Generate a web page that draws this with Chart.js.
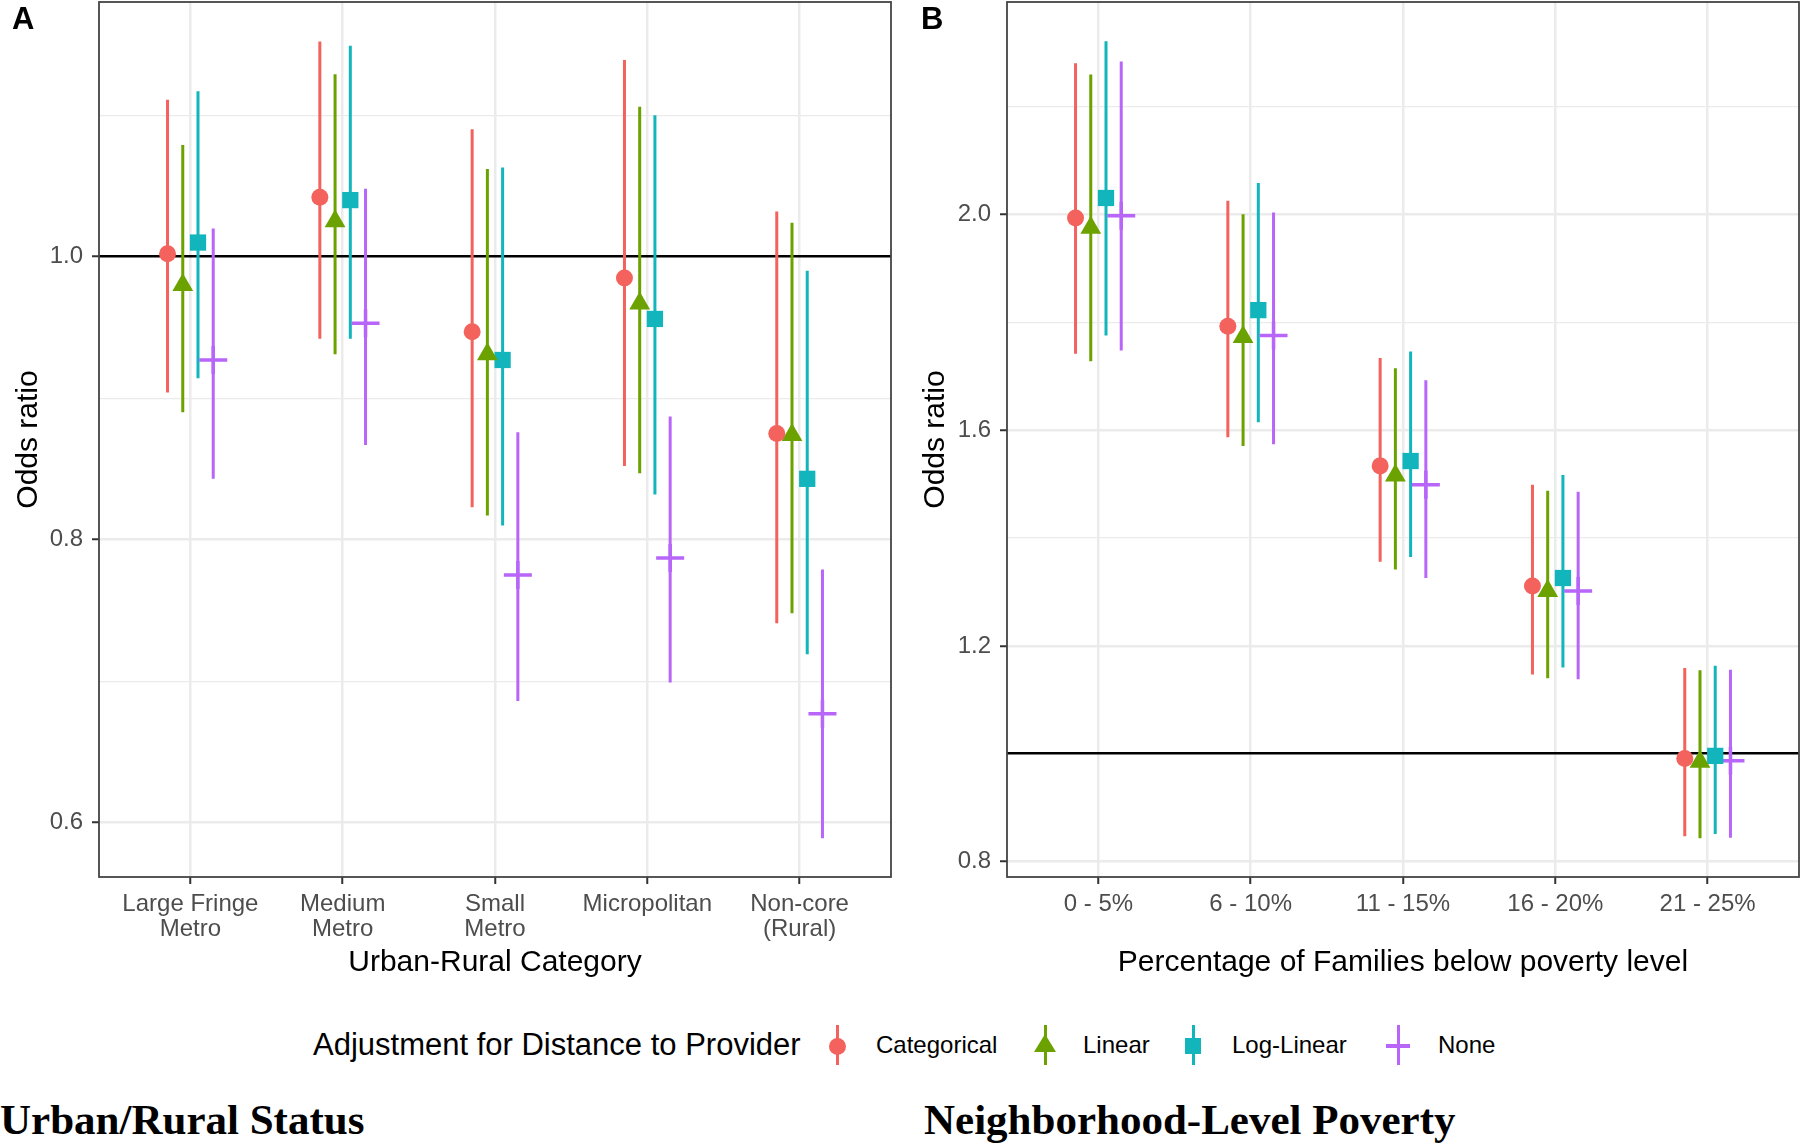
<!DOCTYPE html>
<html>
<head>
<meta charset="utf-8">
<script src="https://cdn.jsdelivr.net/npm/chart.js@4.4.1/dist/chart.umd.min.js"></script>
<style>
  body { margin: 0; background: #fff; }
  #page { position: relative; width: 1800px; height: 1145px; overflow: hidden; background: #fff;
          font-family: "Liberation Sans", Arial, sans-serif; color: #000; }
  canvas { position: absolute; top: 0; }
  .tag { position: absolute; top: 4px; font-weight: bold; font-size: 31px; line-height: 30px; }
  .leg { position: absolute; top: 1025px; height: 40px; line-height: 40px; white-space: nowrap; }
  .vline { position: absolute; top: 1025px; width: 3px; height: 40px; }
  .mk { position: absolute; }
  .caption { position: absolute; top: 1098px; font-family: "Liberation Serif", "Times New Roman", serif;
             font-weight: bold; font-size: 43px; line-height: 43px; white-space: nowrap; }
</style>
</head>
<body>
<div id="page">
  <canvas id="chartA" width="900" height="1000" style="left:0"></canvas>
  <canvas id="chartB" width="900" height="1000" style="left:900px"></canvas>
  <div class="tag" style="left:12px">A</div>
  <div class="tag" style="left:921px">B</div>
  <div id="legend"></div>
  <div class="caption" style="left:0">Urban/Rural Status</div>
  <div class="caption" style="left:924px">Neighborhood-Level Poverty</div>
</div>
<script>
// categories
const catsA = [["Large Fringe", "Metro"], ["Medium", "Metro"], ["Small", "Metro"], "Micropolitan", ["Non-core", "(Rural)"]];
const catsB = ["0 - 5%", "6 - 10%", "11 - 15%", "16 - 20%", "21 - 25%"];
const series = ["Categorical", "Linear", "Log-Linear", "None"];

// odds ratios, one row per series (Categorical, Linear, Log-Linear, None)
const estA = [
  [1.002, 1.042, 0.947, 0.985, 0.875],
  [0.980, 1.025, 0.931, 0.967, 0.874],
  [1.010, 1.040, 0.927, 0.956, 0.843],
  [0.927, 0.953, 0.775, 0.787, 0.677]
];
const lowA = [
  [0.904, 0.942, 0.823, 0.852, 0.741],
  [0.890, 0.931, 0.817, 0.847, 0.748],
  [0.914, 0.942, 0.810, 0.832, 0.719],
  [0.843, 0.867, 0.686, 0.699, 0.589]
];
const highA = [
  [1.111, 1.152, 1.090, 1.139, 1.032],
  [1.079, 1.129, 1.062, 1.106, 1.024],
  [1.117, 1.149, 1.063, 1.100, 0.990],
  [1.020, 1.048, 0.876, 0.887, 0.779]
];

const estB = [
  [1.994, 1.793, 1.534, 1.311, 0.991],
  [1.976, 1.773, 1.516, 1.302, 0.985],
  [2.031, 1.823, 1.543, 1.326, 0.996],
  [1.998, 1.776, 1.499, 1.302, 0.987]
];
const lowB = [
  [1.742, 1.587, 1.356, 1.147, 0.847],
  [1.728, 1.571, 1.342, 1.140, 0.843],
  [1.776, 1.615, 1.365, 1.160, 0.851],
  [1.748, 1.574, 1.326, 1.138, 0.844]
];
const highB = [
  [2.281, 2.026, 1.734, 1.499, 1.159],
  [2.260, 2.001, 1.715, 1.488, 1.155],
  [2.322, 2.059, 1.746, 1.517, 1.163],
  [2.284, 2.004, 1.693, 1.486, 1.156]
];

// y axis ticks (labelled) and minor grid lines
const yTicksA = [0.6, 0.8, 1.0];
const yMinorA = [0.7, 0.9, 1.1];
const yTicksB = [0.8, 1.2, 1.6, 2.0];
const yMinorB = [1.0, 1.4, 1.8, 2.2];
const refLine = 1.0;

const colors = ["#F3625C", "#6BA200", "#12B5BC", "#B865FA"];
const shapes = ["circle", "triangle", "rect", "cross"];
const radii = [8.5, 12, 11.5, 14];
const dodge = [-0.15, -0.05, 0.05, 0.15];

Chart.defaults.font.family = '"Liberation Sans", Arial, sans-serif';
Chart.defaults.animation = false;

// draws the panel frame like theme_bw
const frame = {
  id: "frame",
  afterDraw(chart) {
    const a = chart.chartArea, ctx = chart.ctx;
    ctx.save();
    ctx.strokeStyle = "#444";
    ctx.lineWidth = 1.8;
    ctx.strokeRect(a.left, a.top, a.right - a.left, a.bottom - a.top);
    ctx.restore();
  }
};

// keep the panel size fixed, no extra room for overhanging labels
function noPad(sc) {
  sc.paddingLeft = 0; sc.paddingRight = 0; sc.paddingTop = 0; sc.paddingBottom = 0;
}

function buildDatasets(est, low, high) {
  const ds = [];
  series.forEach((name, s) => {
    const bars = [];
    est[s].forEach((v, i) => {
      const x = i + dodge[s];
      bars.push({ x: x, y: low[s][i] }, { x: x, y: high[s][i] }, { x: x, y: null });
    });
    ds.push({
      label: name + " CI", data: bars, showLine: true, spanGaps: false,
      borderColor: colors[s], borderWidth: 3, pointRadius: 0, order: 2
    });
    ds.push({
      label: name, data: est[s].map((v, i) => ({ x: i + dodge[s], y: v })),
      pointStyle: shapes[s], pointRadius: radii[s], backgroundColor: colors[s],
      borderColor: colors[s], borderWidth: s === 3 ? 3.5 : 0, order: 1
    });
  });
  return ds;
}

function makePanel(id, cats, est, low, high, yMin, yMax, yTicks, yMinor, xTitle, axisW, padRight, titlePad) {
  const isMajor = v => yTicks.some(t => Math.abs(t - v) < 1e-9);
  const isRef = v => Math.abs(v - refLine) < 1e-9;
  return new Chart(document.getElementById(id), {
    type: "scatter",
    data: { datasets: buildDatasets(est, low, high) },
    options: {
      responsive: false,
      devicePixelRatio: 1,
      layout: { autoPadding: false, padding: { left: 0, top: 2, right: padRight, bottom: 0 } },
      plugins: { legend: { display: false }, tooltip: { enabled: false } },
      scales: {
        x: {
          type: "linear", min: -0.6, max: 4.6,
          afterBuildTicks: sc => { sc.ticks = cats.map((c, i) => ({ value: i })); },
          afterFit: sc => { sc.height = 123; noPad(sc); },
          border: { display: false },
          grid: { color: "#EBEBEB", lineWidth: 2.5, tickLength: 7, tickWidth: 2, tickColor: "#333" },
          ticks: {
            autoSkip: false, maxRotation: 0, padding: 8, color: "#4D4D4D",
            font: { size: 24, lineHeight: 1.05 },
            callback: v => cats[v]
          },
          title: { display: true, text: xTitle, color: "#000", font: { size: 30, lineHeight: 1.2 }, padding: { top: 0, bottom: 19 } }
        },
        y: {
          min: yMin, max: yMax,
          afterBuildTicks: sc => {
            sc.ticks = yTicks.concat(yMinor).sort((a, b) => a - b).map(v => ({ value: v }));
          },
          afterFit: sc => { sc.width = axisW; noPad(sc); },
          border: { display: false },
          grid: {
            color: c => isRef(c.tick.value) ? "#000" : "#EBEBEB",
            lineWidth: c => isRef(c.tick.value) ? 2.5 : (isMajor(c.tick.value) ? 2.5 : 1.3),
            tickLength: 7, tickWidth: 2,
            tickColor: c => isMajor(c.tick.value) ? "#333" : "rgba(0,0,0,0)"
          },
          ticks: {
            autoSkip: false, padding: 9, color: "#4D4D4D", font: { size: 24 },
            callback: v => isMajor(v) ? v.toFixed(1) : ""
          },
          title: { display: true, text: "Odds ratio", color: "#000", font: { size: 30, lineHeight: 1.2 }, padding: { top: titlePad, bottom: 0 } }
        }
      }
    },
    plugins: [frame]
  });
}

makePanel("chartA", catsA, estA, lowA, highA, 0.5616, 1.18, yTicksA, yMinorA, "Urban-Rural Category", 99, 9, 11);
makePanel("chartB", catsB, estB, lowB, highB, 0.7713, 2.3946, yTicksB, yMinorB, "Percentage of Families below poverty level", 107, 1, 18);

// legend row
const legend = document.getElementById("legend");
const keyX = [837, 1045, 1193, 1398];
const textX = [876, 1083, 1232, 1438];
let html = '<div class="leg" style="left:313px;font-size:31px">Adjustment for Distance to Provider</div>';
series.forEach((name, s) => {
  const cx = keyX[s], cy = 1046, c = colors[s];
  html += '<div class="vline" style="left:' + (cx - 1.5) + 'px;background:' + c + '"></div>';
  if (s === 0) html += '<div class="mk" style="left:' + (cx - 8.5) + 'px;top:' + (cy - 8.5) + 'px;width:17px;height:17px;border-radius:50%;background:' + c + '"></div>';
  if (s === 1) html += '<div class="mk" style="left:' + (cx - 11) + 'px;top:' + (cy - 12) + 'px;width:0;height:0;border-left:11px solid transparent;border-right:11px solid transparent;border-bottom:18px solid ' + c + '"></div>';
  if (s === 2) html += '<div class="mk" style="left:' + (cx - 8) + 'px;top:' + (cy - 8) + 'px;width:16px;height:16px;background:' + c + '"></div>';
  if (s === 3) html += '<div class="mk" style="left:' + (cx - 12) + 'px;top:' + (cy - 1.75) + 'px;width:24px;height:3.5px;background:' + c + '"></div>';
  html += '<div class="leg" style="left:' + textX[s] + 'px;font-size:24px">' + name + '</div>';
});
legend.innerHTML = html;
</script>
</body>
</html>
